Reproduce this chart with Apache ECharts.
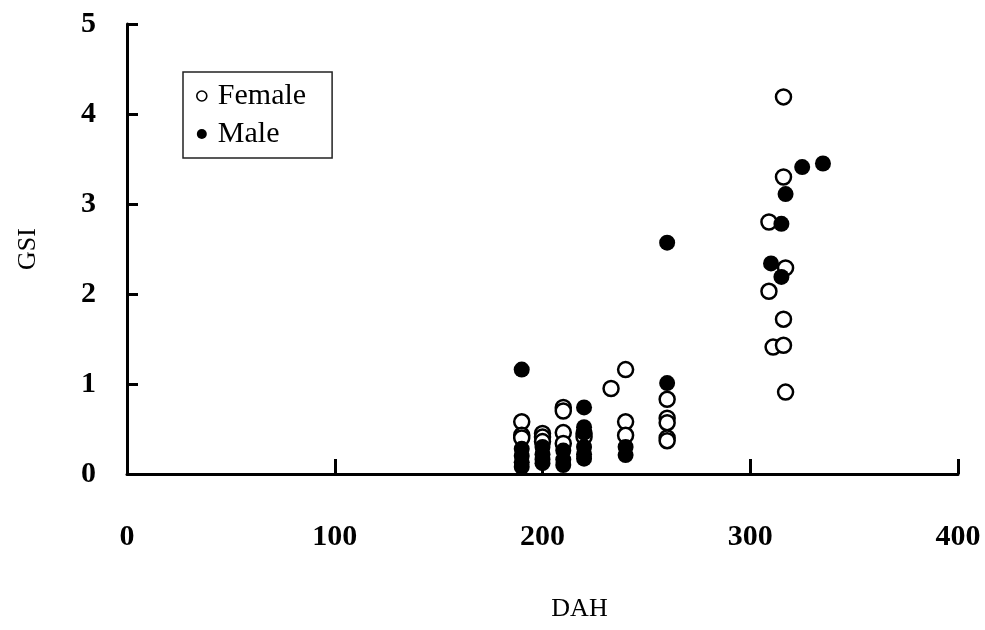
<!DOCTYPE html>
<html>
<head>
<meta charset="utf-8">
<script src="https://cdn.jsdelivr.net/npm/echarts@6/dist/echarts.min.js"></script>
<style>
  html, body { margin: 0; padding: 0; background: #fff; }
  #chart { width: 985px; height: 630px; }
</style>
</head>
<body>
<div id="chart"></div>
<script>
// Days after hatching (DAH) and gonadosomatic index (GSI) per fish
const femaleDAH = [190, 190, 190, 200, 200, 200, 210, 210, 210, 210, 220, 220, 233, 240, 240, 240,
                   260, 260, 260, 260, 260, 309, 309, 311, 316, 316, 316, 316, 317, 317];
const femaleGSI = [0.58, 0.43, 0.40, 0.45, 0.41, 0.36, 0.74, 0.70, 0.46, 0.34, 0.45, 0.41, 0.95, 1.16, 0.58, 0.43,
                   0.83, 0.62, 0.57, 0.40, 0.37, 2.80, 2.03, 1.41, 4.19, 3.30, 1.72, 1.43, 2.29, 0.91];

const maleDAH = [190, 190, 190, 190, 190, 200, 200, 200, 200, 210, 210, 210,
                 220, 220, 220, 220, 220, 220, 240, 240, 260, 260, 310, 315, 315, 317, 325, 335];
const maleGSI = [1.16, 0.28, 0.20, 0.13, 0.08, 0.30, 0.22, 0.16, 0.12, 0.26, 0.16, 0.10,
                 0.74, 0.52, 0.46, 0.30, 0.22, 0.17, 0.30, 0.21, 2.57, 1.01, 2.34, 2.78, 2.19, 3.11, 3.41, 3.45];

const xTicks = [0, 100, 200, 300, 400];
const yTicks = [0, 1, 2, 3, 4, 5];

const pairs = (xs, ys) => xs.map((x, i) => [x, ys[i]]);

const serif = '"Liberation Serif", "DejaVu Serif", serif';
const chart = echarts.init(document.getElementById('chart'), null, { renderer: 'canvas' });

chart.setOption({
  animation: false,
  backgroundColor: '#ffffff',
  grid: { left: 127, right: 27, top: 24, bottom: 156, containLabel: false },
  legend: {
    orient: 'vertical',
    left: 183,
    top: 72,
    padding: [9, 26, 9, 13],
    itemGap: 8,
    itemWidth: 10,
    itemHeight: 10,
    borderColor: '#222',
    borderWidth: 1.5,
    textStyle: { fontFamily: serif, fontSize: 30, color: '#000', padding: [0, 0, 0, 6] },
    data: [
      { name: 'Female', icon: 'circle', itemStyle: { color: '#fff', borderColor: '#000', borderWidth: 1.6 } },
      { name: 'Male', icon: 'circle', itemStyle: { color: '#000', borderColor: '#000', borderWidth: 0 } }
    ]
  },
  xAxis: {
    type: 'value',
    min: xTicks[0],
    max: xTicks[xTicks.length - 1],
    interval: 100,
    name: 'DAH',
    nameLocation: 'middle',
    nameGap: 122,
    nameTextStyle: { fontFamily: serif, fontSize: 26, color: '#000', padding: [0, 0, 0, 74] },
    axisLine: { show: true, onZero: false, lineStyle: { color: '#000', width: 3 } },
    axisTick: { show: true, inside: true, length: 15, lineStyle: { color: '#000', width: 3 } },
    axisLabel: { margin: 48, fontFamily: serif, fontSize: 30, fontWeight: 'bold', color: '#000' },
    splitLine: { show: false }
  },
  yAxis: {
    type: 'value',
    min: yTicks[0],
    max: yTicks[yTicks.length - 1],
    interval: 1,
    name: 'GSI',
    nameLocation: 'middle',
    nameGap: 86,
    nameRotate: 90,
    nameTextStyle: { fontFamily: serif, fontSize: 26, color: '#000' },
    axisLine: { show: true, onZero: false, lineStyle: { color: '#000', width: 3 } },
    axisTick: { show: true, inside: true, length: 11, lineStyle: { color: '#000', width: 3 } },
    axisLabel: { margin: 31, fontFamily: serif, fontSize: 30, fontWeight: 'bold', color: '#000' },
    splitLine: { show: false }
  },
  series: [
    {
      name: 'Female',
      type: 'scatter',
      symbol: 'circle',
      symbolSize: 15,
      data: pairs(femaleDAH, femaleGSI),
      itemStyle: { color: '#fff', borderColor: '#000', borderWidth: 2.5, opacity: 1 }
    },
    {
      name: 'Male',
      type: 'scatter',
      symbol: 'circle',
      symbolSize: 16,
      data: pairs(maleDAH, maleGSI),
      itemStyle: { color: '#000', borderColor: '#000', borderWidth: 0, opacity: 1 }
    }
  ]
});
</script>
</body>
</html>
